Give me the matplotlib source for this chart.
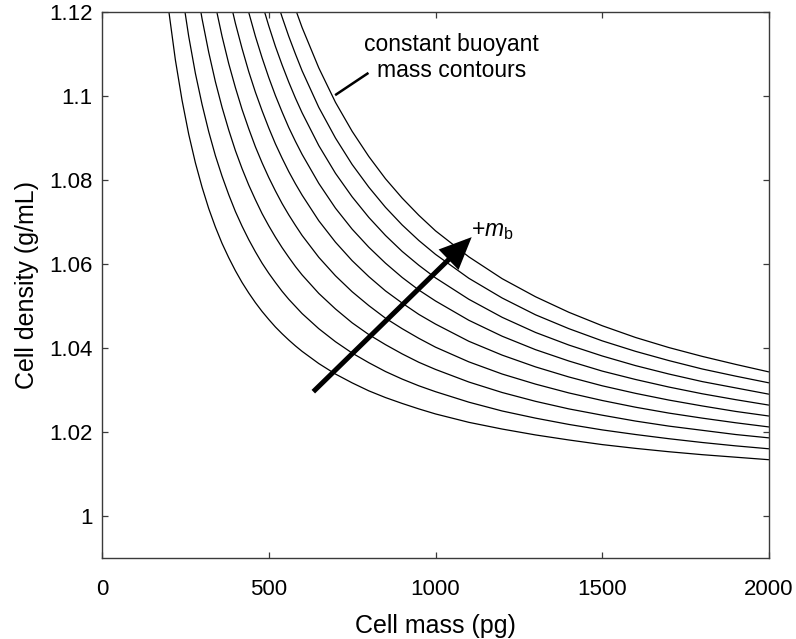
import numpy as np
import matplotlib
matplotlib.use("Agg")
import matplotlib.pyplot as plt
from matplotlib.patches import FancyArrowPatch

nan = np.nan

# Cell mass (pg) sample points shared by all contours
cell_mass = [180, 200, 220, 240, 260, 280, 300, 320, 340, 360, 380, 400, 420, 440,
             460, 480, 500, 520, 540, 560, 580, 600, 650, 700, 750, 800, 850, 900,
             950, 1000, 1100, 1200, 1300, 1400, 1500, 1600, 1700, 1800, 1900, 2000]

# Cell density (g/mL) along each constant buoyant mass contour
density_c1 = [1.1352, 1.1204, 1.1086, 1.0990, 1.0909, 1.0841, 1.0783, 1.0732, 1.0688, 1.0649,
              1.0615, 1.0584, 1.0556, 1.0531, 1.0508, 1.0487, 1.0468, 1.0450, 1.0434, 1.0419,
              1.0405, 1.0392, 1.0363, 1.0338, 1.0317, 1.0298, 1.0282, 1.0268, 1.0255, 1.0243,
              1.0223, 1.0207, 1.0193, 1.0181, 1.0170, 1.0161, 1.0153, 1.0146, 1.0140, 1.0134]
density_c2 = [1.1721, 1.1526, 1.1372, 1.1246, 1.1142, 1.1054, 1.0980, 1.0915, 1.0858, 1.0809,
              1.0765, 1.0725, 1.0690, 1.0658, 1.0629, 1.0602, 1.0578, 1.0556, 1.0535, 1.0516,
              1.0499, 1.0482, 1.0446, 1.0415, 1.0388, 1.0365, 1.0344, 1.0326, 1.0310, 1.0296,
              1.0271, 1.0250, 1.0233, 1.0218, 1.0205, 1.0194, 1.0184, 1.0175, 1.0167, 1.0160]
density_c3 = [1.2114, 1.1867, 1.1673, 1.1515, 1.1386, 1.1276, 1.1184, 1.1104, 1.1034, 1.0973,
              1.0919, 1.0870, 1.0827, 1.0788, 1.0753, 1.0720, 1.0691, 1.0664, 1.0639, 1.0616,
              1.0594, 1.0574, 1.0530, 1.0493, 1.0460, 1.0432, 1.0408, 1.0386, 1.0366, 1.0349,
              1.0319, 1.0294, 1.0273, 1.0255, 1.0240, 1.0226, 1.0214, 1.0204, 1.0194, 1.0186]
density_c4 = [nan, 1.2229, 1.1990, 1.1798, 1.1640, 1.1508, 1.1395, 1.1299, 1.1216, 1.1142,
              1.1077, 1.1020, 1.0968, 1.0922, 1.0879, 1.0841, 1.0806, 1.0774, 1.0744, 1.0717,
              1.0692, 1.0668, 1.0616, 1.0572, 1.0534, 1.0501, 1.0471, 1.0446, 1.0423, 1.0402,
              1.0367, 1.0338, 1.0314, 1.0293, 1.0275, 1.0259, 1.0245, 1.0233, 1.0222, 1.0212]
density_c5 = [nan, nan, 1.2325, 1.2094, 1.1905, 1.1748, 1.1615, 1.1502, 1.1403, 1.1317,
              1.1241, 1.1173, 1.1113, 1.1058, 1.1009, 1.0965, 1.0924, 1.0886, 1.0852, 1.0820,
              1.0791, 1.0764, 1.0703, 1.0652, 1.0608, 1.0570, 1.0536, 1.0507, 1.0480, 1.0457,
              1.0416, 1.0383, 1.0355, 1.0331, 1.0310, 1.0292, 1.0276, 1.0262, 1.0249, 1.0238]
density_c6 = [nan, nan, nan, 1.2406, 1.2184, 1.1999, 1.1844, 1.1712, 1.1597, 1.1497,
              1.1409, 1.1331, 1.1261, 1.1199, 1.1142, 1.1091, 1.1044, 1.1001, 1.0962, 1.0925,
              1.0892, 1.0861, 1.0792, 1.0733, 1.0683, 1.0640, 1.0602, 1.0568, 1.0538, 1.0512,
              1.0466, 1.0428, 1.0396, 1.0369, 1.0345, 1.0325, 1.0307, 1.0291, 1.0277, 1.0264]
density_c7 = [nan, nan, nan, nan, 1.2475, 1.2261, 1.2082, 1.1929, 1.1798, 1.1683,
              1.1582, 1.1493, 1.1414, 1.1343, 1.1278, 1.1220, 1.1167, 1.1118, 1.1074, 1.1033,
              1.0995, 1.0960, 1.0882, 1.0816, 1.0760, 1.0711, 1.0668, 1.0630, 1.0597, 1.0567,
              1.0516, 1.0473, 1.0437, 1.0407, 1.0381, 1.0358, 1.0338, 1.0320, 1.0305, 1.0290]
density_c8 = [nan, nan, nan, nan, nan, nan, 1.2330, 1.2155, 1.2005, 1.1875,
              1.1761, 1.1660, 1.1571, 1.1490, 1.1418, 1.1352, 1.1293, 1.1238, 1.1188, 1.1142,
              1.1100, 1.1060, 1.0973, 1.0900, 1.0837, 1.0783, 1.0735, 1.0693, 1.0656, 1.0623,
              1.0566, 1.0519, 1.0479, 1.0446, 1.0417, 1.0392, 1.0370, 1.0350, 1.0333, 1.0317]
density_c9 = [nan, nan, nan, nan, nan, nan, nan, 1.2390, 1.2221, 1.2074,
              1.1946, 1.1832, 1.1732, 1.1642, 1.1561, 1.1488, 1.1421, 1.1361, 1.1305, 1.1254,
              1.1207, 1.1163, 1.1067, 1.0985, 1.0916, 1.0856, 1.0803, 1.0757, 1.0716, 1.0679,
              1.0617, 1.0565, 1.0522, 1.0485, 1.0453, 1.0425, 1.0401, 1.0380, 1.0361, 1.0343]

contours = [density_c1, density_c2, density_c3, density_c4, density_c5,
            density_c6, density_c7, density_c8, density_c9]

x_ticks = [0, 500, 1000, 1500, 2000]
x_tick_labels = ["0", "500", "1000", "1500", "2000"]
y_ticks = [1.00, 1.02, 1.04, 1.06, 1.08, 1.10, 1.12]
y_tick_labels = ["1", "1.02", "1.04", "1.06", "1.08", "1.1", "1.12"]

plt.rcParams['font.family'] = ['Liberation Sans', 'DejaVu Sans']
plt.rcParams['mathtext.fontset'] = 'custom'
plt.rcParams['mathtext.rm'] = 'Liberation Sans'
plt.rcParams['mathtext.it'] = 'Liberation Sans:italic'

fig = plt.figure(figsize=(7.96, 6.39), dpi=100)
ax = fig.add_axes([102/796, 1 - 558/639, 667/796, 546/639])

for dens in contours:
    ax.plot(cell_mass, dens, color='black', lw=0.9, solid_capstyle='butt')

ax.set_xlim(0, 2000)
ax.set_ylim(0.99, 1.12)
ax.set_xticks(x_ticks)
ax.set_xticklabels(x_tick_labels)
ax.set_yticks(y_ticks)
ax.set_yticklabels(y_tick_labels)

spine_col = '#3a3a3a'
for s in ax.spines.values():
    s.set_color(spine_col)
    s.set_linewidth(1.0)
ax.tick_params(axis='both', direction='in', length=4.5, width=0.9, color=spine_col,
               top=True, right=True, labelsize=16, labelcolor='black')
ax.tick_params(axis='x', pad=15)
ax.tick_params(axis='y', pad=7)

ax.set_xlabel("Cell mass (pg)", fontsize=18, labelpad=10)
ax.set_ylabel("Cell density (g/mL)", fontsize=18, labelpad=7)

# annotations
ax.text(1049, 1.1092, "constant buoyant\nmass contours", ha='center', va='center',
        fontsize=16.5, linespacing=1.15)
ax.plot([699, 799], [1.1002, 1.1055], color='black', lw=1.8, solid_capstyle='butt')

arrow = FancyArrowPatch((633.6, 1.0296), (1108.5, 1.0664),
                        arrowstyle='-|>,head_length=17,head_width=7.5',
                        mutation_scale=1, lw=3.6, color='black',
                        shrinkA=0, shrinkB=0, joinstyle='miter', capstyle='butt')
ax.add_patch(arrow)
ax.text(1106, 1.0667, r"+$m_\mathrm{b}$", ha='left', va='baseline', fontsize=16.5)

fig.savefig("out.png", dpi=100)
